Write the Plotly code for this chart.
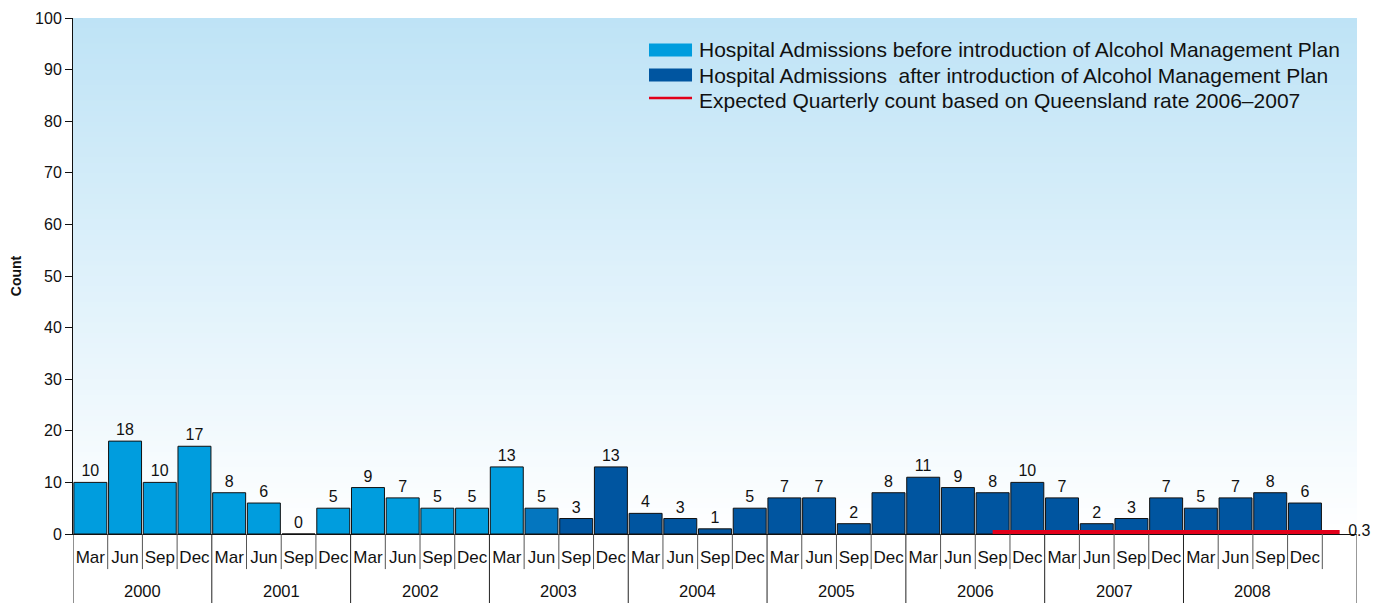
import plotly.graph_objects as go

years = ["2000", "2001", "2002", "2003", "2004", "2005", "2006", "2007", "2008"]
quarters = ["Mar", "Jun", "Sep", "Dec"]
counts = [10, 18, 10, 17, 8, 6, 0, 5, 9, 7, 5, 5, 13, 5, 3, 13, 4, 3, 1, 5,
          7, 7, 2, 8, 11, 9, 8, 10, 7, 2, 3, 7, 5, 7, 8, 6]
before_idx = list(range(0, 13))
transition_idx = [13]
after_idx = list(range(14, 36))
expected_value = 0.3
expected_start = 26   # Sep 2006
expected_end = 36     # one slot past Dec 2008
legend_names = [
    "Hospital Admissions before introduction of Alcohol Management Plan",
    "Hospital Admissions  after introduction of Alcohol Management Plan",
    "Expected Quarterly count based on Queensland rate 2006\u20132007",
]

FONT = "Arial, Liberation Sans, sans-serif"
LIGHT = "#009DDE"
DARK = "#0055A0"
MID = "#0476BF"
RED = "#E2001A"
TXT = "#111111"

n = len(counts)
xs = list(range(n))
qlabels = [quarters[i % 4] for i in range(n)]

fig = go.Figure()

def bar_trace(idx, name, color):
    return go.Bar(
        x=[xs[i] for i in idx], y=[counts[i] for i in idx],
        text=[str(counts[i]) for i in idx], textposition="outside",
        textfont=dict(family=FONT, size=16, color=TXT),
        marker=dict(color=color, line=dict(color="#111", width=1)),
        name=name, showlegend=False, cliponaxis=False,
    )

fig.add_trace(bar_trace(before_idx, legend_names[0], LIGHT))
fig.add_trace(bar_trace(after_idx, legend_names[1], DARK))
fig.add_trace(bar_trace(transition_idx, "transition", MID))

fig.add_trace(go.Scatter(
    x=[expected_start, expected_end], y=[expected_value, expected_value],
    mode="lines+markers+text", text=["", f"{expected_value}"], textposition="middle right",
    textfont=dict(family=FONT, size=16, color=TXT),
    marker=dict(size=12, opacity=0),
    line=dict(color=RED, width=5), cliponaxis=False,
    name=legend_names[2], showlegend=False,
))

shapes = []
# background gradient (overlapping stripes to avoid seams)
top = (190, 227, 246)
bot = (255, 255, 255)
nstr = 100
for i in range(nstr):
    t = (i + 0.5) / nstr
    c = tuple(int(round(bot[k] + (top[k] - bot[k]) * t)) for k in range(3))
    y1 = min(100, 100 * (i + 1) / nstr + 0.8)
    shapes.append(dict(type="rect", xref="paper", yref="y", x0=0, x1=1,
                       y0=100 * i / nstr, y1=y1,
                       fillcolor=f"rgb{c}", line=dict(width=0), layer="below"))

# category separators below the axis
q_bottom = -0.068
y_bottom = -0.14
for k in range(n + 1):
    b = k - 0.5
    if k % 4 == 0 and k < n:
        continue
    shapes.append(dict(type="line", xref="x", yref="paper", x0=b, x1=b,
                       y0=0, y1=q_bottom, line=dict(color="#555", width=1)))
for k in range(len(years)):
    b = 4 * k - 0.5
    shapes.append(dict(type="line", xref="x", yref="paper", x0=b, x1=b,
                       y0=0, y1=y_bottom, line=dict(color="#222", width=1)))
shapes.append(dict(type="line", xref="x", yref="paper", x0=n + 0.5, x1=n + 0.5,
                   y0=0, y1=y_bottom, line=dict(color="#777", width=1.5)))

annotations = []
for k, yr in enumerate(years):
    annotations.append(dict(x=4 * k + 1.5, y=-0.111, xref="x", yref="paper",
                            text=yr, showarrow=False, yanchor="middle",
                            font=dict(family=FONT, size=16.5, color=TXT)))

# legend (drawn manually to match wide swatches)
lx0, lx1, ltx = 0.4486, 0.4821, 0.4860
rows = [0.938, 0.8895, 0.841]
shapes.append(dict(type="rect", xref="paper", yref="paper", x0=lx0, x1=lx1,
                   y0=rows[0] - 0.0125, y1=rows[0] + 0.0125, fillcolor=LIGHT, line=dict(width=0)))
shapes.append(dict(type="rect", xref="paper", yref="paper", x0=lx0, x1=lx1,
                   y0=rows[1] - 0.0125, y1=rows[1] + 0.0125, fillcolor=DARK, line=dict(width=0)))
shapes.append(dict(type="line", xref="paper", yref="paper", x0=lx0, x1=lx1,
                   y0=rows[2] + 0.004, y1=rows[2] + 0.004, line=dict(color=RED, width=2.5)))
for name, ry in zip(legend_names, rows):
    annotations.append(dict(x=ltx, y=ry, xref="paper", yref="paper", text=name,
                            showarrow=False, xanchor="left", yanchor="middle",
                            font=dict(family=FONT, size=21, color=TXT)))

fig.update_layout(
    width=1375, height=595,
    margin=dict(l=65, r=26, t=10, b=69, autoexpand=False),
    paper_bgcolor="white", plot_bgcolor="white",
    barmode="overlay", bargap=0.05,
    font=dict(family=FONT, size=16, color=TXT),
    shapes=shapes, annotations=annotations,
    showlegend=False,
    xaxis=dict(range=[-0.5, n + 0.5], tickmode="array", tickvals=xs, ticktext=qlabels,
               showgrid=False, zeroline=False, showline=True, linecolor="#111",
               ticks="", tickfont=dict(family=FONT, size=17, color=TXT),
               ticklabelstandoff=8, automargin=False),
    yaxis=dict(range=[0, 100], tickmode="linear", tick0=0, dtick=10,
               showgrid=False, zeroline=False, showline=True, linecolor="#111",
               ticks="outside", ticklen=7, tickcolor="#111", automargin=False,
               tickfont=dict(family=FONT, size=16, color=TXT),
               title=dict(text="<b>Count</b>", font=dict(family=FONT, size=14, color=TXT),
                          standoff=16)),
)

fig.write_html("out.html")
